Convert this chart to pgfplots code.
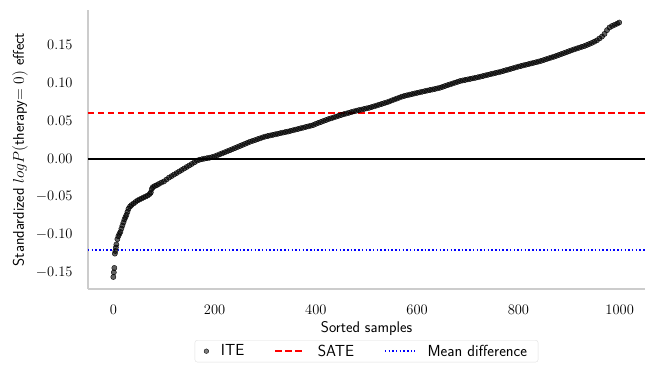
\RequirePackage{fix-cm}
\documentclass[border=0pt]{standalone}
\usepackage{fontspec}
\usepackage{pgfplots}
\pgfplotsset{compat=1.18}
\usepackage{pgfplotstable}

% sorted individual treatment effects
\pgfplotstableread{
idx ite
0 -0.1557
1 -0.1496
2 -0.1438
3 -0.1250
4 -0.1215
5 -0.1170
6 -0.1130
8 -0.1060
10 -0.1020
12 -0.0990
14 -0.0965
16 -0.0920
18 -0.0880
20 -0.0840
22 -0.0800
24 -0.0770
26 -0.0740
28 -0.0700
30 -0.0660
33 -0.0630
36 -0.0610
40 -0.0590
44 -0.0570
48 -0.0550
52 -0.0537
56 -0.0524
60 -0.0510
64 -0.0498
68 -0.0484
72 -0.0465
74 -0.0445
76 -0.0400
78 -0.0375
82 -0.0360
86 -0.0348
90 -0.0333
95 -0.0315
100 -0.0300
105 -0.0275
110 -0.0250
115 -0.0230
120 -0.0210
125 -0.0190
130 -0.0170
135 -0.0150
140 -0.0130
145 -0.0110
150 -0.0090
155 -0.0070
160 -0.0050
165 -0.0028
170 -0.0015
175 -0.0008
180 0.0000
185 0.0006
190 0.0012
195 0.0020
200 0.0030
205 0.0043
210 0.0057
215 0.0070
220 0.0083
225 0.0097
230 0.0110
235 0.0124
240 0.0138
245 0.0152
250 0.0166
255 0.0180
260 0.0194
265 0.0208
270 0.0222
275 0.0233
280 0.0244
285 0.0256
290 0.0267
295 0.0279
300 0.0290
305 0.0297
310 0.0305
315 0.0312
320 0.0320
325 0.0327
330 0.0335
335 0.0342
340 0.0350
345 0.0356
350 0.0365
355 0.0373
360 0.0382
365 0.0390
370 0.0399
375 0.0407
380 0.0416
385 0.0424
390 0.0433
395 0.0442
400 0.0457
405 0.0470
410 0.0482
415 0.0495
420 0.0507
425 0.0520
430 0.0530
435 0.0541
440 0.0552
445 0.0563
450 0.0574
455 0.0584
460 0.0593
465 0.0602
470 0.0612
475 0.0621
480 0.0630
485 0.0638
490 0.0645
495 0.0653
500 0.0661
505 0.0668
510 0.0678
515 0.0688
520 0.0698
525 0.0709
530 0.0719
535 0.0730
540 0.0740
545 0.0752
550 0.0765
555 0.0778
560 0.0790
565 0.0803
570 0.0815
575 0.0825
580 0.0833
585 0.0841
590 0.0849
595 0.0857
600 0.0865
605 0.0872
610 0.0880
615 0.0887
620 0.0895
625 0.0902
630 0.0909
635 0.0916
640 0.0924
645 0.0932
650 0.0943
655 0.0955
660 0.0966
665 0.0977
670 0.0988
675 0.0999
680 0.1010
685 0.1021
690 0.1028
695 0.1035
700 0.1042
705 0.1049
710 0.1056
715 0.1063
720 0.1070
725 0.1078
730 0.1086
735 0.1095
740 0.1103
745 0.1111
750 0.1119
755 0.1127
760 0.1135
765 0.1143
770 0.1152
775 0.1162
780 0.1171
785 0.1181
790 0.1190
795 0.1200
800 0.1210
805 0.1218
810 0.1227
815 0.1235
820 0.1243
825 0.1252
830 0.1260
835 0.1268
840 0.1277
845 0.1286
850 0.1297
855 0.1308
860 0.1319
865 0.1330
870 0.1340
875 0.1352
880 0.1364
885 0.1376
890 0.1388
895 0.1400
900 0.1413
905 0.1425
910 0.1437
915 0.1448
920 0.1459
925 0.1470
930 0.1480
935 0.1494
940 0.1508
945 0.1522
950 0.1538
955 0.1556
960 0.1580
965 0.1605
970 0.1640
975 0.1690
980 0.1726
985 0.1745
990 0.1760
995 0.1775
999 0.1790
}\itetable

\begin{document}
\begin{tikzpicture}
\useasboundingbox (-88pt,-88pt) rectangle (570pt,289pt);
\begin{axis}[
  scale only axis, width=557pt, height=279pt,
  xmin=-50, xmax=1050, ymin=-0.1715, ymax=0.1955,
  axis x line*=bottom, axis y line*=left,
  axis line style={gray!40, line width=1.2pt, -},
  major tick length=0pt,
  xtick={0,200,...,1000},
  ytick={-0.15,-0.10,...,0.16},
  xticklabel style={/pgf/number format/1000 sep={}, yshift=-13pt},
  yticklabel style={/pgf/number format/fixed, /pgf/number format/fixed zerofill,
    /pgf/number format/precision=2, xshift=-12pt},
  scaled y ticks=false,
  tick label style={font=\fontsize{14.5}{16}\selectfont},
  xlabel={Sorted samples},
  ylabel={Standardized $logP($therapy$=0)$ effect},
  label style={font=\fontsize{15.5}{17}\selectfont\sffamily},
  xlabel style={at={(axis description cs:0.5,-0.143)}, anchor=center},
  ylabel style={at={(axis description cs:-0.122,0.5)}, anchor=center},
  legend style={at={(0.5,-0.183)}, anchor=north, legend columns=3,
    draw=gray!25, rounded corners=2.5pt, inner ysep=2.5pt, inner xsep=9pt,
    font=\fontsize{16}{18}\selectfont\sffamily,
    /tikz/every odd column/.append style={column sep=10pt},
    /tikz/every even column/.append style={column sep=28pt}},
  legend cell align=left,
  legend image code/.code={\draw[#1] (0pt,0pt) -- (30pt,0pt);},
  clip=false,
]
\addplot[only marks, mark=*, mark size=2.6pt,
  mark options={draw=none, fill=black, fill opacity=0.62},
  legend image code/.code={\fill[black, fill opacity=0.5] (15pt,0pt) circle (2.3pt);}]
  table[x=idx, y=ite] {\itetable};
\addlegendentry{ITE}
\addplot[red, line width=1.5pt, dash pattern=on 6.5pt off 3.5pt] coordinates {(-50,0.06) (1050,0.06)};
\addlegendentry{SATE}
\addplot[blue, line width=1.5pt, dash pattern=on 1.5pt off 2.2pt] coordinates {(-50,-0.12) (1050,-0.12)};
\addlegendentry{Mean difference}
\addplot[black, line width=1.8pt, forget plot] coordinates {(-50,0) (1050,0)};
\end{axis}
\end{tikzpicture}
\end{document}
